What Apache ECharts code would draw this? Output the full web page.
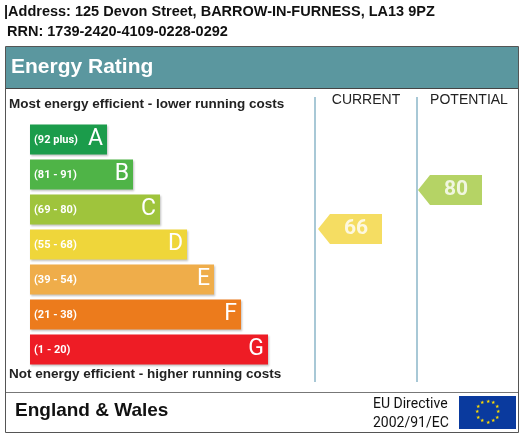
<!DOCTYPE html>
<html><head><meta charset="utf-8">
<script src="https://cdn.jsdelivr.net/npm/echarts@6/dist/echarts.min.js"></script>
<style>html,body{margin:0;padding:0;background:#fff}#c{width:522px;height:437px}</style>
</head><body><div id="c"></div>
<script>
const bands = ['A','B','C','D','E','F','G'];
const ranges = ['(92 plus)','(81 - 91)','(69 - 80)','(55 - 68)','(39 - 54)','(21 - 38)','(1 - 20)'];
const barLengths = [77,103,130,157,184,211,238];
const bandColors = ['#1b9c4b','#4fb447','#9fc43c','#efd63a','#efad4a','#ec7b1c','#ee1c25'];
const ratingColumns = ['CURRENT','POTENTIAL'];
const ratingValues = [66,80];
const ratingColors = ['#f3d43b','#a2c83e'];
const F = '"Liberation Sans", Arial, sans-serif';
const R = 'Roboto, "Liberation Sans", sans-serif';

const chart = echarts.init(document.getElementById('c'));
const stars = [];
for (let i=0;i<12;i++){const a=i*Math.PI/6;stars.push({type:'text',style:{x:487.5+10.5*Math.sin(a),y:412-10.5*Math.cos(a),text:'★',fill:'#ffdd00',font:'5px '+F,align:'center',verticalAlign:'middle'}});}
chart.setOption({
  animation:false,
  graphic:[
    {type:'text',style:{x:4,y:12,text:'|Address: 125 Devon Street, BARROW-IN-FURNESS, LA13 9PZ',font:'bold 14.5px '+F,fill:'#111',verticalAlign:'middle'}},
    {type:'text',style:{x:7,y:32,text:'RRN: 1739-2420-4109-0228-0292',font:'bold 14.5px '+F,fill:'#111',verticalAlign:'middle'}},
    {type:'rect',shape:{x:5.5,y:46.5,width:513,height:386},style:{fill:'none',stroke:'#555',lineWidth:1}},
    {type:'rect',shape:{x:6,y:47,width:512,height:41},style:{fill:'#5b979f'}},
    {type:'line',shape:{x1:6,y1:88.5,x2:518,y2:88.5},style:{stroke:'#444',lineWidth:1}},
    {type:'text',style:{x:11,y:67,text:'Energy Rating',font:'bold 21px '+F,fill:'#fff',verticalAlign:'middle'}},
    {type:'text',style:{x:9,y:104,text:'Most energy efficient - lower running costs',font:'bold 13.5px '+F,fill:'#222',verticalAlign:'middle'}},
    {type:'text',style:{x:9,y:374,text:'Not energy efficient - higher running costs',font:'bold 13.5px '+F,fill:'#222',verticalAlign:'middle'}},
    {type:'text',style:{x:366,y:100,text:'CURRENT',font:'14px '+F,fill:'#222',align:'center',verticalAlign:'middle'}},
    {type:'text',style:{x:469,y:100,text:'POTENTIAL',font:'14px '+F,fill:'#222',align:'center',verticalAlign:'middle'}},
    {type:'line',shape:{x1:315,y1:97,x2:315,y2:382},style:{stroke:'#a8c8d6',lineWidth:2}},
    {type:'line',shape:{x1:417,y1:97,x2:417,y2:382},style:{stroke:'#a8c8d6',lineWidth:2}},
    {type:'line',shape:{x1:6,y1:392.5,x2:518,y2:392.5},style:{stroke:'#777',lineWidth:1}},
    {type:'text',style:{x:15,y:411,text:'England & Wales',font:'bold 19px '+F,fill:'#111',verticalAlign:'middle'}},
    {type:'text',style:{x:373,y:404,text:'EU Directive',font:'14px '+R,fill:'#111',verticalAlign:'middle'}},
    {type:'text',style:{x:373,y:423,text:'2002/91/EC',font:'14px '+R,fill:'#111',verticalAlign:'middle'}},
    {type:'rect',shape:{x:459,y:396,width:57,height:33},style:{fill:'#0a3a9e'}},
    ...stars
  ],
  grid:[
    {left:30,top:122,width:300,height:245},
    {left:300,top:134.3,width:200,height:278.6}
  ],
  xAxis:[
    {gridIndex:0,type:'value',min:0,max:300,show:false},
    {gridIndex:1,type:'category',data:ratingColumns,show:false}
  ],
  yAxis:[
    {gridIndex:0,type:'category',data:bands,inverse:true,show:false},
    {gridIndex:1,type:'value',min:0,max:100,show:false}
  ],
  series:[
    {type:'bar',xAxisIndex:0,yAxisIndex:0,barWidth:30,
     data:barLengths.map((v,i)=>({value:v,itemStyle:{color:bandColors[i],shadowColor:'rgba(0,0,0,0.25)',shadowBlur:2,shadowOffsetX:1,shadowOffsetY:1}})),
     label:{show:true,position:'insideLeft',offset:[-1,1],formatter:p=>ranges[p.dataIndex],color:'#fff',fontFamily:R,fontWeight:'bold',fontSize:11}},
    {type:'bar',xAxisIndex:0,yAxisIndex:0,barWidth:30,barGap:'-100%',
     data:barLengths.map(v=>({value:v,itemStyle:{color:'rgba(0,0,0,0)'}})),
     label:{show:true,position:'insideRight',offset:[1,0],formatter:p=>bands[p.dataIndex],color:'#fff',fontFamily:R,fontSize:23}},
    {type:'scatter',xAxisIndex:1,yAxisIndex:1,
     symbol:'path://M0,15 L12,0 L64,0 L64,30 L12,30 Z',symbolSize:[64,30],
     data:ratingValues.map((v,i)=>({value:[i,v],itemStyle:{color:ratingColors[i]}})),
     label:{show:true,position:'inside',offset:[6,0],formatter:p=>p.value[1],color:'#fff',fontFamily:R,fontWeight:'bold',fontSize:21}}
  ]
});
</script></body></html>
